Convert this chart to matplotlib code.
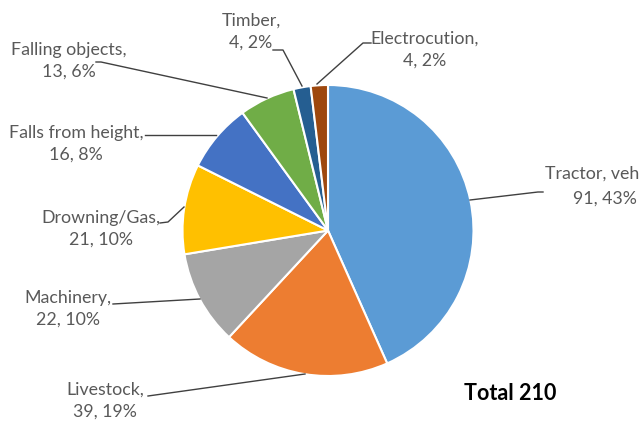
import matplotlib.pyplot as plt

# data
causes = ['Tractor, veh', 'Livestock', 'Machinery', 'Drowning/Gas',
          'Falls from height', 'Falling objects', 'Timber', 'Electrocution']
deaths = [91, 39, 22, 21, 16, 13, 4, 4]
percents = [43, 19, 10, 10, 8, 6, 2, 2]
colors = ['#5B9BD5', '#ED7D31', '#A5A5A5', '#FFC000',
          '#4472C4', '#70AD47', '#255E91', '#9E480E']
total = 210

W, H = 644, 423

def Y(y):
    # pixel row -> data y
    return H - y

fig = plt.figure(figsize=(W / 100, H / 100), dpi=100)
ax = fig.add_axes([0, 0, 1, 1])

ax.pie(deaths, colors=colors, startangle=90, counterclock=False,
       center=(328, Y(230.5)), radius=145.5,
       wedgeprops=dict(edgecolor='white', linewidth=1.5))
ax.set_xlim(0, W)
ax.set_ylim(0, H)
ax.set_aspect('equal')
ax.axis('off')

# label centres (pixels) and leader lines
label_pos = {
    'Livestock': (105, 401),
    'Machinery': (68, 309),
    'Drowning/Gas': (101, 229),
    'Falls from height': (76, 144),
    'Falling objects': (69, 61),
    'Timber': (251, 32),
    'Electrocution': (425, 50),
}
leaders = {
    'Tractor, veh': [(470, 200), (538, 192), (543, 192)],
    'Livestock': [(148, 396), (305, 374)],
    'Machinery': [(113, 304), (200, 299)],
    'Drowning/Gas': [(160, 223), (168, 222), (184, 207)],
    'Falls from height': [(145, 135), (216, 135)],
    'Falling objects': [(96, 62), (101, 62), (267, 98)],
    'Timber': [(273, 50), (283, 50), (302, 86)],
    'Electrocution': [(317, 84), (363, 43), (371, 43)],
}

txt = dict(fontsize=12.8, family='Lato', color='#595959')

for name, n, p in zip(causes, deaths, percents):
    if name in label_pos:
        x, y = label_pos[name]
        ax.text(x, Y(y), '%s,\n%d, %d%%' % (name, n, p), ha='center',
                va='center', linespacing=1.45, **txt)
    else:
        # right-hand label runs off the edge in the original
        ax.text(545, Y(174), name, ha='left', va='center', **txt)
        ax.text(573, Y(199), '%d, %d%%' % (n, p), ha='left', va='center', **txt)
    pts = leaders[name]
    ax.plot([q[0] for q in pts], [Y(q[1]) for q in pts],
            color='#404040', linewidth=1)

ax.text(510, Y(393), 'Total %d' % total, ha='center', va='center',
        fontsize=15.5, family='Lato', fontweight='bold', color='black')

fig.savefig('out.png', dpi=100)
